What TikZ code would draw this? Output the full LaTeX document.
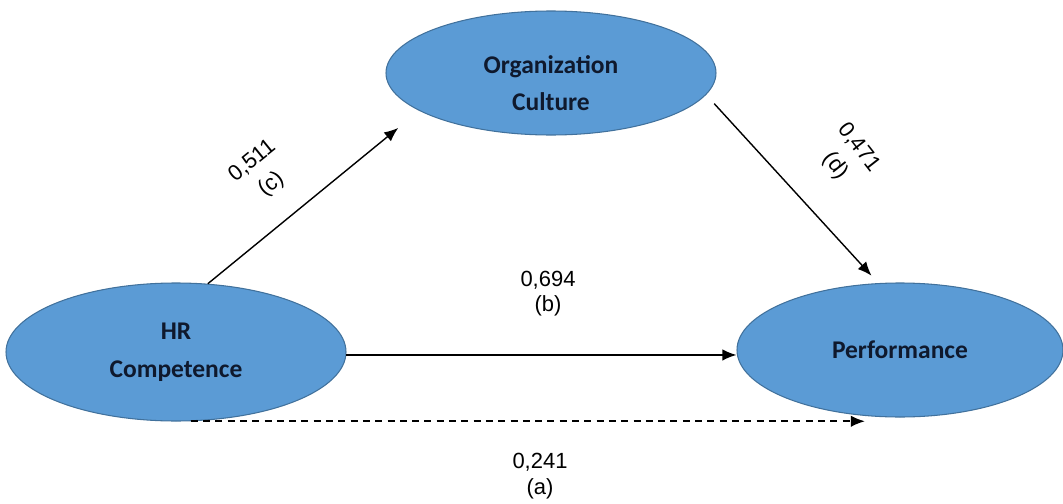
\documentclass[tikz,border=0pt]{standalone}
\usepackage{fontspec}
\setmainfont{Liberation Sans}
\newfontfamily\calfont{Carlito}
\usepackage{tikz}
\usetikzlibrary{shapes.geometric,arrows.meta}

\definecolor{ellblue}{HTML}{5B9BD5}
\definecolor{ellborder}{HTML}{41719C}
\definecolor{darktext}{RGB}{15,25,45}

\begin{document}
\begin{tikzpicture}[>={Latex[length=8pt,width=6.5pt]}, line width=0.8pt]

        \useasboundingbox (0,0) rectangle (21.26,10.06);

        \begin{scope}[every node/.style={ellipse, draw=ellborder, line width=0.6pt, fill=ellblue, inner sep=0pt, align=center, text=darktext, font=\calfont\bfseries\fontsize{14.5}{21.5}\selectfont}]
          \node[minimum width=6.6cm, minimum height=2.48cm] (oc)   at (11.02,8.60) {\rule{0pt}{0.76cm}Organization\\Culture};
          \node[minimum width=6.8cm, minimum height=2.76cm] (hr)   at (3.52,3.02)  {HR\\Competence};
          \node[minimum width=6.52cm, minimum height=2.68cm] (perf) at (18.0,3.06) {Performance};
        \end{scope}

        \begin{scope}[every edge/.style={draw, line width=0.8pt}]
          \path (hr.65)  edge[->, shorten >=0.54cm] (oc.196);
          \path (oc.-8)  edge[->, shorten <=0.24cm, shorten >=0.2cm] (perf.108);
          \path (hr.-1.5) edge[->] (hr.-1.5 -| perf.west);
          \path (hr.-78) edge[->, line width=1pt, dash pattern=on 4pt off 3pt] (hr.-78 -| perf.-118);
        \end{scope}

        \begin{scope}[every node/.style={align=center, font=\fontsize{12.5}{14.5}\selectfont}]
          \node[rotate=39, font=\fontsize{12.5}{17}\selectfont]  (lc) at (5.24,6.60)  {0,511\\(c)};
          \node[rotate=-52, font=\fontsize{12.5}{17}\selectfont] (ld) at (16.94,6.92) {0,471\\(d)};
          \node (lb) at (10.96,4.19) {0,694\\(b)};
          \node (la) at (10.80,0.54) {0,241\\(a)};
        \end{scope}

      \end{tikzpicture}
\end{document}
